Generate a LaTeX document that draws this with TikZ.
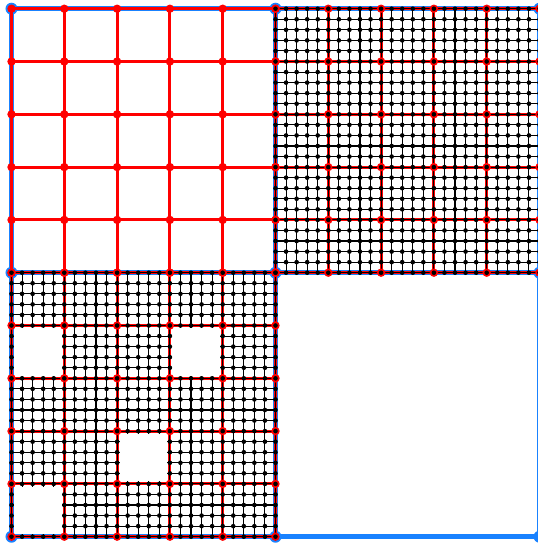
\documentclass[tikz,border=0pt]{standalone}
\definecolor{meshblue}{RGB}{25,130,255}
\definecolor{meshred}{RGB}{255,0,0}
\tikzset{
  blueline/.style={draw=meshblue,line width=2.6pt},
  redline/.style={draw=meshred,line width=1.5pt},
  fineline/.style={draw=black,line width=0.55pt},
}
\newcommand\meshlines[5]{%
  \foreach \k in {0,...,#3}{%
    \draw[#5] ({#1+\k*#4},{#2}) -- ({#1+\k*#4},{#2+#3*#4});
    \draw[#5] ({#1},{#2+\k*#4}) -- ({#1+#3*#4},{#2+\k*#4});
  }}
\newcommand\meshdots[6]{%
  \foreach \i in {0,...,#3}{\foreach \j in {0,...,#3}{%
    \fill[#6] ({#1+\i*#4},{#2+\j*#4}) circle[radius=#5];}}}
\begin{document}
\begin{tikzpicture}[x=0.5pt,y=-0.5pt]
\useasboundingbox (0,0) rectangle (538,543);
\clip (0,0) rectangle (538,543);
\def\X{11.5}\def\Y{8.7}\def\S{528}\def\H{264}\def\C{52.8}\def\F{10.56}
% blue outer 2x2 frame
\foreach \k in {0,1,2}{
  \draw[blueline] ({\X+\k*\H},\Y) -- ({\X+\k*\H},{\Y+\S});
  \draw[blueline] (\X,{\Y+\k*\H}) -- ({\X+\S},{\Y+\k*\H});
}
\meshdots{\X}{\Y}{2}{\H}{3pt}{meshblue}
% red coarse grids
\meshlines{\X}{\Y}{5}{\C}{redline}
\meshlines{\X+\H}{\Y}{5}{\C}{redline}
\meshlines{\X}{\Y+\H}{5}{\C}{redline}
% fine black grids
\meshlines{\X+\H}{\Y}{25}{\F}{fineline}
\meshlines{\X}{\Y+\H}{25}{\F}{fineline}
% holes
\foreach \c/\r in {0/1,3/1,2/3,0/4}{
  \fill[white] ({\X+\c*\C+2.6},{\Y+\H+\r*\C+2.6}) rectangle ({\X+(\c+1)*\C-2.6},{\Y+\H+(\r+1)*\C-2.6});
}
% red dots
\meshdots{\X}{\Y}{5}{\C}{2.1pt}{meshred}
\meshdots{\X+\H}{\Y}{5}{\C}{2.1pt}{meshred}
\meshdots{\X}{\Y+\H}{5}{\C}{2.1pt}{meshred}
% black dots
\meshdots{\X+\H}{\Y}{25}{\F}{1.15pt}{black}
\begin{scope}[even odd rule]
\clip ({\X-10},{\Y+\H-10}) rectangle ({\X+\H+10},{\Y+\S+10})
  ({\X+0*\C+3.5},{\Y+\H+1*\C+3.5}) rectangle ({\X+1*\C-3.5},{\Y+\H+2*\C-3.5})
  ({\X+3*\C+3.5},{\Y+\H+1*\C+3.5}) rectangle ({\X+4*\C-3.5},{\Y+\H+2*\C-3.5})
  ({\X+2*\C+3.5},{\Y+\H+3*\C+3.5}) rectangle ({\X+3*\C-3.5},{\Y+\H+4*\C-3.5})
  ({\X+0*\C+3.5},{\Y+\H+4*\C+3.5}) rectangle ({\X+1*\C-3.5},{\Y+\H+5*\C-3.5});
\meshdots{\X}{\Y+\H}{25}{\F}{1.15pt}{black}
\end{scope}
\end{tikzpicture}
\end{document}
